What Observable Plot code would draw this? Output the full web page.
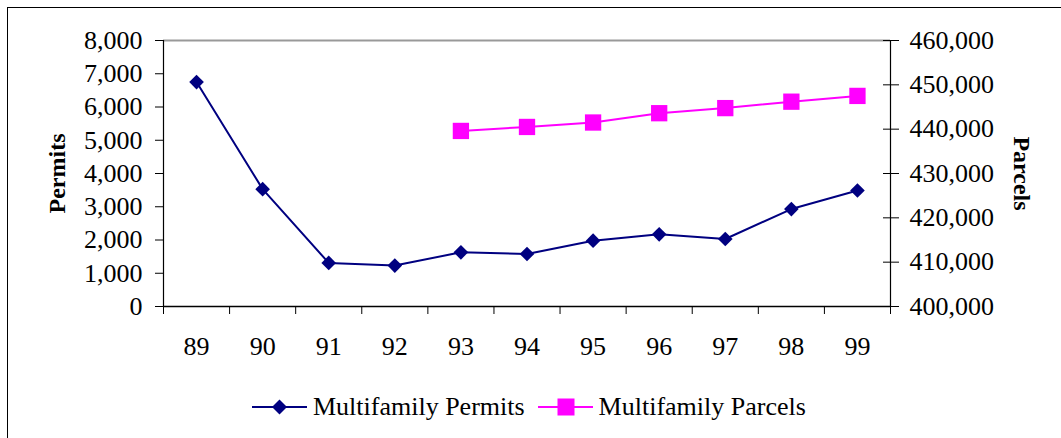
<!DOCTYPE html>
<html>
<head>
<meta charset="utf-8">
<script src="https://cdn.jsdelivr.net/npm/d3@7"></script>
<script src="https://cdn.jsdelivr.net/npm/@observablehq/plot@0.6"></script>
<style>
  html, body { margin: 0; padding: 0; background: #fff; overflow: hidden; }
  #page { position: relative; width: 1061px; height: 438px; overflow: hidden; font-family: "Liberation Serif", "Times New Roman", serif; }
  #border { position: absolute; left: 7px; top: 7px; width: 1200px; height: 600px; border: 1px solid #000; box-sizing: border-box; }
  #chart { position: absolute; left: 0; top: 0; }
  #legend { position: absolute; left: 252px; top: 392px; height: 30px; display: flex; align-items: center; font-size: 26px; color: #000; white-space: nowrap; }
  #legend .item { display: flex; align-items: center; }
  #legend svg { display: block; }
</style>
</head>
<body>
<div id="page">
  <div id="border"></div>
  <div id="chart"></div>
  <div id="legend"></div>
</div>
<script>
// Data
const years = [89, 90, 91, 92, 93, 94, 95, 96, 97, 98, 99];
const permits = [6750, 3530, 1310, 1230, 1630, 1580, 1980, 2170, 2030, 2930, 3490];
const parcelYears = [93, 94, 95, 96, 97, 98, 99];
const parcels = [439600, 440500, 441500, 443600, 444750, 446200, 447500];
const permitTicks = [0, 1000, 2000, 3000, 4000, 5000, 6000, 7000, 8000];
const parcelTicks = [400000, 410000, 420000, 430000, 440000, 450000, 460000];
const seriesNames = ["Multifamily Permits", "Multifamily Parcels"];

const navy = "#000080";
const magenta = "#ff00ff";

// Map right axis (parcels) into the left axis (permits) domain
const pMin = 400000, pMax = 460000, yMax = 8000;
const toY = p => (p - pMin) / (pMax - pMin) * yMax;
const fromY = y => Math.round(pMin + y / yMax * (pMax - pMin));
const fmt = d3.format(",");

const bounds = years.map(y => y - 0.5).concat([years[years.length - 1] + 0.5]);

const chart = Plot.plot({
  width: 1061,
  height: 372,
  marginLeft: 163,
  marginRight: 171,
  marginTop: 40,
  marginBottom: 66,
  style: { fontFamily: "'Liberation Serif', 'Times New Roman', serif", fontSize: "26px", color: "#000", background: "transparent" },
  x: { type: "linear", domain: [bounds[0], bounds[bounds.length - 1]], axis: null },
  y: { domain: [0, yMax], axis: null },
  marks: [
    // frame
    Plot.ruleY([yMax], { stroke: "#999", strokeWidth: 2 }),
    Plot.ruleX([bounds[0]], { stroke: "#000", strokeWidth: 1.2 }),
    Plot.ruleX([bounds[bounds.length - 1]], { stroke: "#000", strokeWidth: 1.2 }),
    Plot.ruleY([0], { stroke: "#000", strokeWidth: 1.6 }),
    // axes
    Plot.axisY({ anchor: "left", ticks: permitTicks, tickSize: 8, tickPadding: 13, tickFormat: fmt, label: null }),
    Plot.axisY({ anchor: "right", ticks: parcelTicks.map(toY), tickSize: 16, insetRight: 8, tickPadding: 11, tickFormat: d => fmt(fromY(d)), label: null, textAnchor: "start" }),
    Plot.axisX({ ticks: bounds, tickSize: 8, tickFormat: () => "", label: null }),
    Plot.axisX({ ticks: years, tickSize: 0, tickPadding: 30, tickFormat: d => String(d), label: null }),
    // axis titles
    Plot.text(["Permits"], { frameAnchor: "left", textAnchor: "middle", dx: -106, rotate: -90, fontWeight: "bold", fontSize: 24 }),
    Plot.text(["Parcels"], { frameAnchor: "right", textAnchor: "middle", dx: 131, rotate: 90, fontWeight: "bold", fontSize: 24 }),
    // series
    Plot.line(years, { x: d => d, y: (d, i) => permits[i], stroke: navy, strokeWidth: 2 }),
    Plot.dot(years, { x: d => d, y: (d, i) => permits[i], symbol: "diamond2", r: 6.6, fill: navy, stroke: "none" }),
    Plot.line(parcelYears, { x: d => d, y: (d, i) => toY(parcels[i]), stroke: magenta, strokeWidth: 2 }),
    Plot.dot(parcelYears, { x: d => d, y: (d, i) => toY(parcels[i]), symbol: "square", r: 9.2, fill: magenta, stroke: "none" })
  ]
});
document.getElementById("chart").appendChild(chart);

// Legend
const legend = document.getElementById("legend");
const swatches = [
  `<svg width="55" height="20"><line x1="0" y1="10" x2="55" y2="10" stroke="${navy}" stroke-width="2"/><path d="M27.5,2.5L35,10L27.5,17.5L20,10Z" fill="${navy}"/></svg>`,
  `<svg width="55" height="20"><line x1="0" y1="10" x2="55" y2="10" stroke="${magenta}" stroke-width="2"/><rect x="19.5" y="1.5" width="17" height="17" fill="${magenta}"/></svg>`
];
seriesNames.forEach((name, i) => {
  const item = document.createElement("div");
  item.className = "item";
  item.style.marginRight = i === 0 ? "13px" : "0";
  item.innerHTML = swatches[i] + `<span style="margin-left:6px">${name}</span>`;
  legend.appendChild(item);
});
</script>
</body>
</html>
